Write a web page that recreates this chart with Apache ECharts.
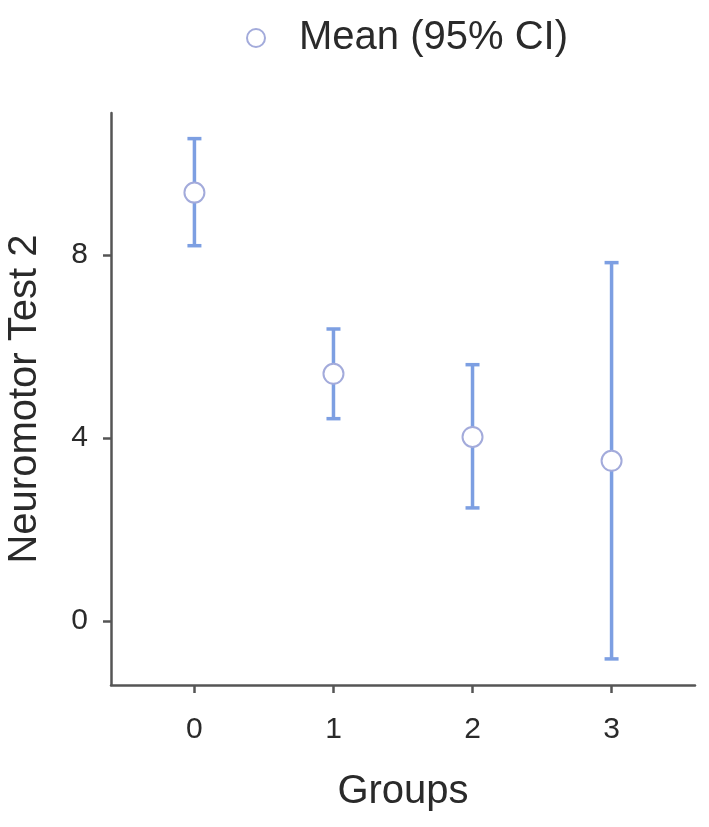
<!DOCTYPE html>
<html>
<head>
<meta charset="utf-8">
<script src="https://cdn.jsdelivr.net/npm/echarts@6/dist/echarts.min.js"></script>
<style>
  html, body { margin: 0; padding: 0; background: #fff; }
  #chart { width: 709px; height: 827px; }
</style>
</head>
<body>
<div id="chart"></div>
<script>
const groups = [0, 1, 2, 3]
const means = [9.36, 5.40, 4.02, 3.50]
const lower = [8.20, 4.42, 2.47, -0.83]
const upper = [10.54, 6.38, 5.60, 7.83]
const yTicks = [0, 4, 8]

const chart = echarts.init(document.getElementById('chart'))
const font = 'Liberation Sans, Arial, Helvetica, sans-serif'
const axisColor = '#555'
const textColor = '#2a2a2a'
const barColor = '#7d9fe2'

const ciData = groups.map((g, i) => [g, lower[i], upper[i]])
const meanData = groups.map((g, i) => [g, means[i]])

const option = {
  animation: false,
  textStyle: { fontFamily: font },
  legend: {
    left: 241,
    top: 13,
    itemWidth: 18,
    itemHeight: 18,
    data: ['Mean (95% CI)'],
    textStyle: {
      fontSize: 40,
      color: textColor,
      fontFamily: font,
      padding: [0, 0, 0, 29]
    }
  },
  grid: {
    left: 111,
    right: 14,
    top: 113,
    bottom: 142,
    outerBoundsMode: 'none'
  },
  xAxis: {
    type: 'value',
    min: -0.6,
    max: 3.6,
    name: 'Groups',
    nameLocation: 'middle',
    nameGap: 87,
    nameTextStyle: { fontSize: 40, color: textColor, fontFamily: font },
    splitLine: { show: false },
    axisLine: { onZero: false, lineStyle: { color: axisColor, width: 2.5 } },
    axisTick: {
      length: 8,
      lineStyle: { color: axisColor, width: 2.5 },
      customValues: groups
    },
    axisLabel: {
      fontSize: 30,
      color: textColor,
      margin: 30,
      customValues: groups
    }
  },
  yAxis: {
    type: 'value',
    min: -1.4,
    max: 11.1,
    name: 'Neuromotor Test 2',
    nameLocation: 'middle',
    nameGap: 66,
    nameTextStyle: { fontSize: 40, color: textColor, fontFamily: font },
    splitLine: { show: false },
    axisLine: { show: true, onZero: false, lineStyle: { color: axisColor, width: 2.5 } },
    axisTick: {
      show: true,
      length: 8,
      lineStyle: { color: axisColor, width: 2.5 },
      customValues: yTicks
    },
    axisLabel: {
      fontSize: 30,
      color: textColor,
      margin: 23,
      customValues: yTicks
    }
  },
  series: [
    {
      name: 'CI',
      type: 'custom',
      data: ciData,
      encode: { x: 0, y: [1, 2] },
      renderItem: function (params, api) {
        const x = api.value(0)
        const lo = api.coord([x, api.value(1)])
        const hi = api.coord([x, api.value(2)])
        const cap = 7
        const style = { stroke: barColor, lineWidth: 3.5 }
        return {
          type: 'group',
          children: [
            { type: 'line', shape: { x1: lo[0], y1: lo[1], x2: hi[0], y2: hi[1] }, style: style },
            { type: 'line', shape: { x1: lo[0] - cap, y1: lo[1], x2: lo[0] + cap, y2: lo[1] }, style: style },
            { type: 'line', shape: { x1: hi[0] - cap, y1: hi[1], x2: hi[0] + cap, y2: hi[1] }, style: style }
          ]
        }
      },
      z: 2
    },
    {
      name: 'Mean (95% CI)',
      type: 'scatter',
      symbol: 'circle',
      symbolSize: 20,
      data: meanData,
      itemStyle: {
        color: '#fff',
        borderColor: '#a3abdb',
        borderWidth: 2,
        opacity: 1
      },
      z: 3
    }
  ]
}

chart.setOption(option)
</script>
</body>
</html>
